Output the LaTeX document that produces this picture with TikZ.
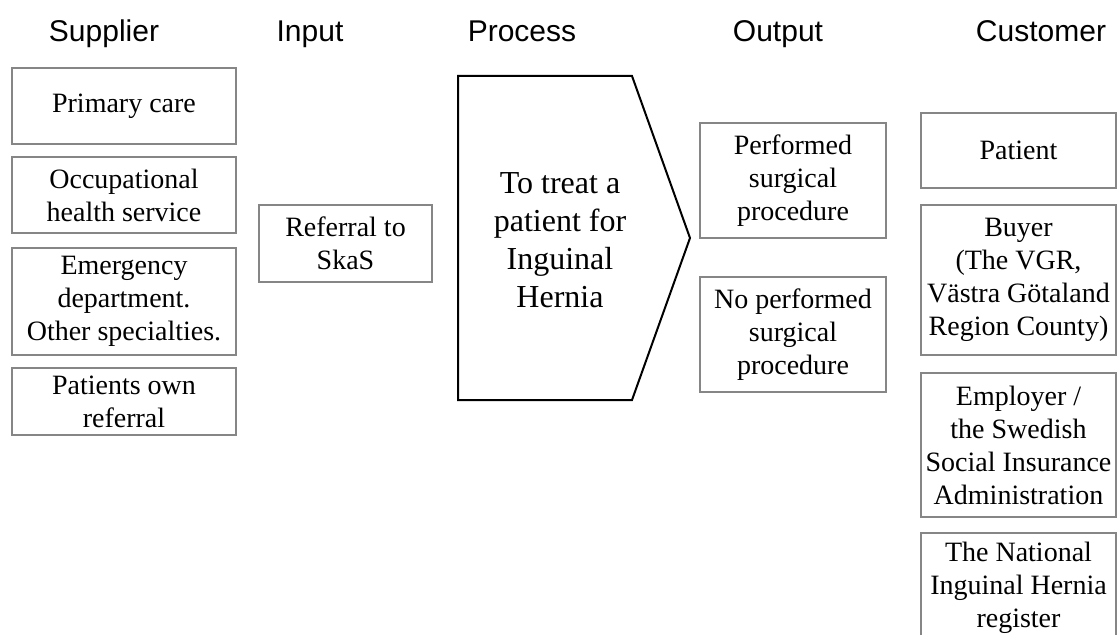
\documentclass[tikz,border=0pt]{standalone}
\usepackage{fontspec}
\setmainfont{Liberation Serif}
\newfontfamily\headfont{Liberation Sans}
\begin{document}
\begin{tikzpicture}[x=0.75pt,y=-0.75pt,
  header/.style={font=\headfont\fontsize{22.5pt}{27pt}\selectfont, anchor=base, inner sep=0pt},
  item/.style={draw=gray!95, line width=1.6pt, align=center, inner sep=0pt,
    font=\fontsize{21pt}{24.75pt}\selectfont},
  proc/.style={draw=black, line width=1.5pt, line join=miter}]
\useasboundingbox (0,0) rectangle (1118,635);
\clip (0,0) rectangle (1118,635);

% column titles
\node[header] (hsup) at (104,42) {Supplier};
\node[header] (hinp) at (310,42) {Input};
\node[header] (hpro) at (522,42) {Process};
\node[header] (hout) at (778,42) {Output};
\node[header] (hcus) at (1041,42) {Customer};

% suppliers
\node[item, minimum width=168pt, minimum height=57pt] (sup1) at (124,106) {Primary care};
\node[item, minimum width=168pt, minimum height=57pt] (sup2) at (124,195) {Occupational\\health service};
\node[item, minimum width=168pt, minimum height=80.25pt] (sup3) at (124,301.5) {Emergency\\department.\\Other specialties.};
\node[item, minimum width=168pt, minimum height=50.25pt] (sup4) at (124,401.5) {Patients own\\referral};

% input
\node[item, minimum width=129.75pt, minimum height=57.75pt] (inp) at (345.5,243.5) {Referral to\\SkaS};

% process chevron
\draw[proc] (458,76) -- (632,76) -- (690,238) -- (632,400) -- (458,400) -- cycle;
\node[align=center, font=\fontsize{24pt}{28.5pt}\selectfont] (proc) at (560,240) {To treat a\\patient for\\Inguinal\\Hernia};

% outputs
\node[item, minimum width=139.5pt, minimum height=86.25pt] (out1) at (793,180.5) {Performed\\surgical\\procedure};
\node[item, minimum width=139.5pt, minimum height=86.25pt] (out2) at (793,334.5) {No performed\\surgical\\procedure};

% customers
\node[item, minimum width=146.25pt, minimum height=56.25pt] (cus1) at (1018.5,150.5) {Patient};
\node[item, minimum width=146.25pt, minimum height=112.5pt] (cus2) at (1018.5,280) {Buyer\\(The VGR,\\Västra Götaland\\Region County)};
\node[item, minimum width=146.25pt, minimum height=108pt] (cus3) at (1018.5,445) {Employer /\\the Swedish\\Social Insurance\\Administration};
\node[item, minimum width=146.25pt, minimum height=82.5pt] (cus4) at (1018.5,588) {The National\\Inguinal Hernia\\register};
\end{tikzpicture}
\end{document}
